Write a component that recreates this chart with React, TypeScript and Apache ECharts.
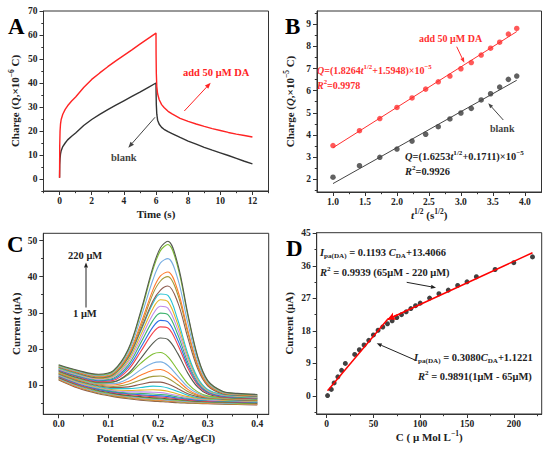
import React, { useEffect, useRef } from 'react';
import * as echarts from 'echarts';

const FONT = "'Liberation Serif','Times New Roman',Times,serif";

// ---------- Panel A : chronocoulometry ----------
const aTime = [0, 0.01, 0.03, 0.06, 0.1, 0.2, 0.35, 0.5, 0.75, 1, 1.5, 2, 2.5, 3, 3.5, 4, 4.5, 5, 5.5, 6,
  6.005, 6.02, 6.05, 6.1, 6.2, 6.35, 6.5, 6.75, 7, 7.5, 8, 8.5, 9, 9.5, 10, 10.5, 11, 11.5, 12];
const aBlank = [0.5, 6, 8.5, 10.5, 11.8, 13.5, 15, 16.3, 17.8, 19.2, 22.3, 24.8, 26.9, 28.9, 30.8, 32.6, 34.4, 36.2, 38.1, 40,
  36, 31, 27, 24.5, 22.8, 21.5, 20.7, 19.7, 18.9, 17.3, 15.8, 14.5, 13.2, 12, 10.9, 9.8, 8.6, 7.4, 6.3];
const aDA = [0.5, 14, 20, 23, 24.8, 27, 29, 30.5, 32.5, 34.2, 38.1, 41.5, 44.2, 46.8, 49.2, 51.5, 53.8, 56.2, 58.5, 60.8,
  52, 44, 38.5, 35.5, 33, 31, 29.8, 28.2, 27.1, 25.3, 24, 22.9, 21.9, 21, 20.2, 19.4, 18.7, 18.1, 17.5];
const aXTicks = [0, 2, 4, 6, 8, 10, 12];
const aXMinor = [-1, 1, 3, 5, 7, 9, 11, 13];
const aYTicks = [0, 10, 20, 30, 40, 50, 60, 70];
const aYMinor = [-5, 5, 15, 25, 35, 45, 55, 65];

// ---------- Panel B : Q vs t^1/2 ----------
const bT = [1.0, 1.414, 1.732, 2.0, 2.236, 2.449, 2.646, 2.828, 3.0, 3.162, 3.317, 3.464, 3.606, 3.742, 3.873];
const bDA = [3.52, 4.19, 4.74, 5.24, 5.67, 6.07, 6.4, 6.66, 6.99, 7.27, 7.61, 7.92, 8.19, 8.56, 8.81];
const bBlank = [2.09, 2.61, 2.99, 3.36, 3.72, 4.03, 4.37, 4.72, 4.99, 5.2, 5.58, 5.86, 6.16, 6.51, 6.66];
const bFitDA = [[1.0, 3.42], [3.873, 8.67]];
const bFitBlank = [[1.0, 1.8], [3.873, 6.47]];
const bXTicks = [1.0, 1.5, 2.0, 2.5, 3.0, 3.5, 4.0];
const bXMinor = [1.25, 1.75, 2.25, 2.75, 3.25, 3.75];
const bYTicks = [2, 3, 4, 5, 6, 7, 8, 9];
const bYMinor = [1.5, 2.5, 3.5, 4.5, 5.5, 6.5, 7.5, 8.5, 9.5];

// ---------- Panel C : DPV curves (1 uM ... 220 uM) ----------
const cPotential = [0, 0.04, 0.08, 0.11, 0.14, 0.165, 0.19, 0.205, 0.22, 0.24, 0.26, 0.28, 0.3, 0.33, 0.36, 0.4];
const cCurves = [
  [11.4, 9.1, 7.6, 6.8, 6.2, 5.8, 5.5, 5.4, 5.3, 5.1, 5.0, 4.9, 4.8, 4.7, 4.6, 4.5],
  [11.5, 9.3, 7.8, 7.0, 6.4, 6.0, 5.7, 5.6, 5.5, 5.3, 5.1, 5.0, 4.9, 4.8, 4.7, 4.6],
  [11.7, 9.4, 8.0, 7.2, 6.6, 6.2, 5.9, 5.8, 5.6, 5.5, 5.3, 5.1, 5.0, 4.9, 4.8, 4.7],
  [11.8, 9.6, 8.1, 7.3, 6.8, 6.4, 6.1, 6.0, 5.8, 5.6, 5.4, 5.3, 5.2, 5.0, 4.9, 4.8],
  [12.0, 9.8, 8.3, 7.5, 7.0, 6.6, 6.3, 6.2, 6.0, 5.8, 5.6, 5.4, 5.3, 5.2, 5.0, 4.9],
  [12.1, 10.0, 8.5, 7.7, 7.1, 6.8, 6.5, 6.4, 6.2, 6.0, 5.7, 5.5, 5.4, 5.3, 5.2, 5.0],
  [12.3, 10.1, 8.7, 7.9, 7.4, 7.1, 6.8, 6.7, 6.5, 6.2, 5.9, 5.7, 5.5, 5.4, 5.3, 5.1],
  [12.4, 10.3, 8.8, 8.1, 7.6, 7.3, 7.1, 7.0, 6.8, 6.4, 6.1, 5.8, 5.7, 5.5, 5.4, 5.2],
  [12.6, 10.5, 9.0, 8.3, 7.8, 7.7, 7.5, 7.4, 7.2, 6.7, 6.3, 6.0, 5.8, 5.6, 5.5, 5.3],
  [12.7, 10.6, 9.2, 8.5, 8.1, 8.1, 8.0, 7.9, 7.6, 7.1, 6.5, 6.1, 5.9, 5.7, 5.6, 5.4],
  [12.9, 10.8, 9.4, 8.7, 8.5, 8.6, 8.7, 8.6, 8.3, 7.5, 6.8, 6.3, 6.1, 5.8, 5.7, 5.5],
  [13.0, 11.0, 9.6, 9.0, 9.0, 9.3, 9.7, 9.6, 9.2, 8.2, 7.2, 6.5, 6.2, 6.0, 5.8, 5.6],
  [13.1, 11.1, 9.8, 9.3, 9.5, 10.2, 10.8, 10.8, 10.3, 9.0, 7.6, 6.8, 6.4, 6.1, 5.9, 5.7],
  [13.3, 11.3, 10.0, 9.6, 10.2, 11.4, 12.4, 12.5, 11.9, 10.1, 8.2, 7.1, 6.5, 6.2, 6.0, 5.8],
  [13.4, 11.5, 10.2, 10.0, 11.0, 12.7, 14.1, 14.3, 13.5, 11.2, 8.8, 7.3, 6.7, 6.3, 6.1, 5.9],
  [13.6, 11.7, 10.4, 10.4, 11.8, 14.2, 16.1, 16.4, 15.4, 12.5, 9.5, 7.7, 6.8, 6.4, 6.2, 6.0],
  [13.7, 11.8, 10.6, 10.8, 12.8, 16.0, 18.6, 19.0, 17.8, 14.1, 10.4, 8.1, 7.0, 6.5, 6.3, 6.1],
  [13.9, 12.0, 10.8, 10.9, 13.2, 17.3, 21.6, 23.0, 22.6, 18.7, 13.3, 9.4, 7.5, 6.7, 6.4, 6.2],
  [14.0, 12.2, 11.0, 11.3, 14.2, 19.2, 24.5, 26.1, 25.8, 21.1, 14.7, 10.0, 7.8, 6.8, 6.5, 6.3],
  [14.2, 12.4, 11.2, 11.6, 14.9, 20.3, 26.1, 27.9, 27.5, 22.4, 15.5, 10.4, 8.0, 6.9, 6.6, 6.4],
  [14.3, 12.5, 11.4, 11.9, 15.5, 21.6, 27.9, 29.9, 29.5, 23.9, 16.3, 10.8, 8.2, 7.1, 6.7, 6.5],
  [14.4, 12.7, 11.6, 12.2, 16.2, 22.7, 29.6, 31.8, 31.3, 25.3, 17.2, 11.2, 8.4, 7.2, 6.9, 6.6],
  [14.6, 12.9, 11.8, 12.5, 16.8, 23.8, 31.2, 33.6, 33.1, 26.7, 18.0, 11.6, 8.6, 7.3, 7.0, 6.7],
  [14.7, 13.0, 12.0, 12.8, 17.4, 24.9, 32.7, 35.2, 34.8, 28.0, 18.7, 12.0, 8.8, 7.4, 7.1, 6.8],
  [14.9, 13.2, 12.0, 12.9, 17.6, 25.2, 33.3, 36.3, 37.4, 32.8, 23.1, 14.5, 9.8, 7.6, 7.2, 6.9],
  [15.0, 13.4, 12.2, 13.1, 18.0, 26.0, 35.3, 38.8, 40.0, 35.0, 24.5, 15.2, 10.1, 7.8, 7.3, 7.0],
  [15.2, 13.5, 12.4, 13.3, 18.4, 26.8, 36.4, 40.2, 41.3, 36.1, 25.2, 15.6, 10.3, 7.9, 7.4, 7.1],
  [15.3, 13.7, 12.6, 13.6, 19.0, 28.4, 39.2, 43.8, 45.0, 39.3, 27.2, 16.6, 10.7, 8.0, 7.5, 7.2],
  [15.5, 13.9, 12.8, 13.8, 19.6, 29.8, 42.0, 47.2, 48.9, 42.6, 29.3, 17.6, 11.1, 8.2, 7.6, 7.3],
  [15.6, 14.0, 13.0, 14.0, 19.9, 30.3, 42.7, 48.0, 49.8, 43.4, 29.8, 17.9, 11.3, 8.3, 7.7, 7.4],
];
const cColors = ['#8c5a4e', '#a39a3a', '#ff7b2e', '#78aee2', '#7fbf33', '#555a50',
  '#f4434d', '#2e6fe6', '#3fb36f', '#c18ceb', '#e4b526', '#26c3d3'];
const cXTicks = [0.0, 0.1, 0.2, 0.3, 0.4];
const cXMinor = [0.05, 0.15, 0.25, 0.35];
const cYTicks = [10, 20, 30, 40, 50];
const cYMinor = [5, 15, 25, 35, 45];

// ---------- Panel D : calibration ----------
const dConc = [1, 5, 8, 12, 16, 20, 30, 35, 40, 45, 50, 55, 60, 65, 70, 75, 80, 85, 90, 95, 100,
  110, 120, 130, 140, 150, 160, 180, 200, 220];
const dCurrent = [0.1, 1.8, 3.6, 5.3, 7.1, 9.0, 11.5, 12.8, 14.1, 15.4, 16.9, 18.2, 19.1, 20.0, 20.8, 21.7,
  22.5, 23.3, 24.2, 25.0, 25.7, 27.1, 28.3, 29.3, 30.6, 31.6, 33.0, 35.0, 36.9, 38.5];
const dFitLow = [[1, 1.43], [65, 21.14]];
const dFitHigh = [[65, 21.16], [220, 39.65]];
const dArrowTail = [[65, 21.16], [76, 22.47]];
const dXTicks = [0, 50, 100, 150, 200];
const dXMinor = [25, 75, 125, 175, 225];
const dYTicks = [0, 9, 18, 27, 36, 45];
const dYMinor = [-4.5, 4.5, 13.5, 22.5, 31.5, 40.5];

const INK = '#222222';
const AXIS = '#333333';
const RED = '#ff2424';

const mkRich = (fs: number, color: string) => {
  const lh = Math.round(fs * 1.4);
  const s = Math.round(fs * 0.68 * 10) / 10;
  return {
    i: { fontStyle: 'italic', fontWeight: 'bold', fontSize: fs, fontFamily: FONT, fill: color, color, verticalAlign: 'middle', lineHeight: lh },
    n: { fontWeight: 'bold', fontSize: fs, fontFamily: FONT, fill: color, color, verticalAlign: 'middle', lineHeight: lh },
    sup: { fontWeight: 'bold', fontSize: s, fontFamily: FONT, fill: color, color, verticalAlign: 'top' },
    sub: { fontWeight: 'bold', fontSize: s, fontFamily: FONT, fill: color, color, verticalAlign: 'bottom' },
  };
};

const T = (x: number, y: number, text: string, fs: number, color: string) => ({
  type: 'text', x, y, silent: true, z: 100,
  style: {
    text, fontFamily: FONT, fontWeight: 'bold', fontSize: fs, fill: color,
    align: 'left', verticalAlign: 'middle', textAlign: 'left', textVerticalAlign: 'middle',
    lineHeight: Math.round(fs * 1.4), rich: mkRich(fs, color),
  },
});

const arrow = (x1: number, y1: number, x2: number, y2: number, color: string, head = 6, w = 2.3) => {
  const dx = x2 - x1, dy = y2 - y1, L = Math.hypot(dx, dy), ux = dx / L, uy = dy / L;
  const bx = x2 - ux * head, by = y2 - uy * head;
  return [
    { type: 'line', silent: true, z: 100, shape: { x1, y1, x2: bx, y2: by }, style: { stroke: color, lineWidth: 1 } },
    { type: 'polygon', silent: true, z: 100, shape: { points: [[x2, y2], [bx - uy * w, by + ux * w], [bx + uy * w, by - ux * w]] }, style: { fill: color } },
  ];
};

const labelStyle = (dec: number, margin: number) => ({
  fontFamily: FONT, fontWeight: 'bold', fontSize: 9.5, color: INK, margin,
  formatter: (v: number) => v.toFixed(dec),
});

const nameStyle = { fontFamily: FONT, fontWeight: 'bold', fontSize: 11, color: INK, lineHeight: 15, rich: mkRich(11, INK) };

function xMain(gi: number, min: number, max: number, ticks: number[], dec: number, name: string, gap: number) {
  return {
    type: 'value', gridIndex: gi, min, max, position: 'bottom',
    axisLine: { show: true, onZero: false, lineStyle: { color: AXIS, width: 1 } },
    axisTick: { show: true, inside: false, length: 4, customValues: ticks, lineStyle: { color: AXIS, width: 1 } },
    axisLabel: { ...labelStyle(dec, 5), customValues: ticks },
    splitLine: { show: false },
    name, nameLocation: 'middle', nameGap: gap, nameTextStyle: nameStyle,
  };
}
function yMain(gi: number, min: number, max: number, ticks: number[], dec: number, name: string, gap: number) {
  return {
    type: 'value', gridIndex: gi, min, max, position: 'left',
    axisLine: { show: true, onZero: false, lineStyle: { color: AXIS, width: 1 } },
    axisTick: { show: true, inside: false, length: 4, customValues: ticks, lineStyle: { color: AXIS, width: 1 } },
    axisLabel: { ...labelStyle(dec, 6), customValues: ticks },
    splitLine: { show: false },
    name, nameLocation: 'middle', nameGap: gap, nameRotate: 90, nameTextStyle: nameStyle,
  };
}
function minorAxis(gi: number, min: number, max: number, ticks: number[], position: string) {
  return {
    type: 'value', gridIndex: gi, min, max, position,
    axisLine: { show: false, onZero: false },
    axisTick: { show: true, inside: false, length: 2.2, customValues: ticks, lineStyle: { color: AXIS, width: 1 } },
    axisLabel: { show: false },
    splitLine: { show: false },
  };
}

const pairs = (xs: number[], ys: number[]) => xs.map((x, k) => [x, ys[k]]);

export default function App() {
  const ref = useRef<HTMLDivElement>(null);
  useEffect(() => {
    if (!ref.current) return;
    const chart = echarts.init(ref.current, null, { renderer: 'svg' });
    const grids = [
      { left: 43.5, top: 11, width: 225, height: 180 },
      { left: 317, top: 11, width: 224.5, height: 181 },
      { left: 43.3, top: 233.3, width: 225.4, height: 181 },
      { left: 316.7, top: 232.7, width: 225, height: 181.3 },
    ].map((g) => ({ ...g, show: true, borderColor: AXIS, borderWidth: 1, backgroundColor: 'transparent', containLabel: false }));

    const rng = {
      ax: [-1, 13], ay: [-5, 70],
      bx: [0.75, 4.26], by: [1.42, 9.6],
      cx: [-0.031, 0.423], cy: [1.9, 52],
      dx: [-10.6, 229.8], dy: [-5, 45.2],
    };

    const xAxis = [
      xMain(0, rng.ax[0], rng.ax[1], aXTicks, 0, 'Time (s)', 14),
      xMain(1, rng.bx[0], rng.bx[1], bXTicks, 1, '{i|t}{sup|1/2} (s{sup|1/2})', 13),
      xMain(2, rng.cx[0], rng.cx[1], cXTicks, 1, 'Potential (V vs. Ag/AgCl)', 15),
      xMain(3, rng.dx[0], rng.dx[1], dXTicks, 0, 'C ( μ Mol L{sup|−1})', 15),
      minorAxis(0, rng.ax[0], rng.ax[1], aXMinor, 'bottom'),
      minorAxis(1, rng.bx[0], rng.bx[1], bXMinor, 'bottom'),
      minorAxis(2, rng.cx[0], rng.cx[1], cXMinor, 'bottom'),
      minorAxis(3, rng.dx[0], rng.dx[1], dXMinor, 'bottom'),
    ];
    const yAxis = [
      yMain(0, rng.ay[0], rng.ay[1], aYTicks, 0, 'Charge (Q,×10{sup|−6} C)', 21),
      yMain(1, rng.by[0], rng.by[1], bYTicks, 0, 'Charge ({i|Q},×10{sup|−5} C)', 20),
      yMain(2, rng.cy[0], rng.cy[1], cYTicks, 0, 'Current (μA)', 20),
      yMain(3, rng.dy[0], rng.dy[1], dYTicks, 0, 'Current (μA)', 20),
      minorAxis(0, rng.ay[0], rng.ay[1], aYMinor, 'left'),
      minorAxis(1, rng.by[0], rng.by[1], bYMinor, 'left'),
      minorAxis(2, rng.cy[0], rng.cy[1], cYMinor, 'left'),
      minorAxis(3, rng.dy[0], rng.dy[1], dYMinor, 'left'),
    ];

    const line = (xi: number, data: number[][], color: string, width: number, extra: any = {}) => ({
      type: 'line', xAxisIndex: xi, yAxisIndex: xi, data, symbol: 'none', showSymbol: false,
      lineStyle: { color, width }, itemStyle: { color }, silent: true, ...extra,
    });
    const scatter = (xi: number, data: number[][], color: string, size: number) => ({
      type: 'scatter', xAxisIndex: xi, yAxisIndex: xi, data, symbol: 'circle', symbolSize: size,
      itemStyle: { color }, silent: true,
    });

    const series: any[] = [
      line(0, pairs(aTime, aBlank), '#333333', 1.4),
      line(0, pairs(aTime, aDA), RED, 1.4),
      line(1, bFitBlank, '#444444', 1),
      line(1, bFitDA, '#ff3030', 1),
      scatter(1, pairs(bT, bBlank), '#3a3a3a', 5.5),
      scatter(1, pairs(bT, bDA), '#ff3030', 5.5),
      ...cCurves.map((row, i) =>
        line(2, pairs(cPotential, row), cColors[i % cColors.length], 1.1, { smooth: 0.35, z: 2 + i * 0.01 })),
      scatter(3, pairs(dConc, dCurrent), '#111111', 5),
      line(3, dFitLow, '#ff0000', 1.5),
      line(3, dFitHigh, '#ff0000', 1.5, {
        markLine: {
          silent: true, animation: false, symbol: ['arrow', 'none'], symbolSize: [6, 8],
          label: { show: false }, lineStyle: { color: '#ff0000', type: 'solid', width: 1.5 },
          data: [[{ coord: dArrowTail[0] }, { coord: dArrowTail[1] }]],
        },
      }),
    ];

    const graphics: any[] = [
      T(8, 26, 'A', 23, '#000'),
      T(183, 72, 'add 50 μM DA', 10.5, RED),
      T(111, 157, 'blank', 10.5, '#444'),
      ...arrow(184.3, 111, 210.7, 82.7, RED),
      ...arrow(155, 117.3, 128.3, 147.7, '#444'),

      T(285, 26, 'B', 23, '#000'),
      T(419, 38.5, 'add 50 μM DA', 10, '#ff3030'),
      T(317, 70, '{i|Q}=(1.8264{i|t}{sup|1/2}+1.5948)×10{sup|−5}', 10, '#ff3030'),
      T(317, 85, '{i|R}{sup|2}=0.9978', 10, '#ff3030'),
      T(490, 128, 'blank', 10, '#444'),
      T(405, 156.7, '{i|Q}=(1.6253{i|t}{sup|1/2}+0.1711)×10{sup|−5}', 10.4, '#222'),
      T(405, 171.7, '{i|R}{sup|2}=0.9926', 10.4, '#222'),
      ...arrow(456.7, 46.7, 464.3, 62.7, '#ff3030', 5, 2),
      ...arrow(503.3, 120, 488.3, 103.3, '#444', 5, 2),

      T(7, 244, 'C', 23, '#000'),
      T(68, 255.5, '220 μM', 10.5, '#222'),
      T(73, 313, '1 μM', 10.5, '#222'),
      ...arrow(86, 307.5, 86, 262.5, '#222', 5, 2),

      T(286, 248, 'D', 23, '#000'),
      T(320, 252, '{i|I}{sub|pa(DA)} = 0.1193 {i|C}{sub|DA}+13.4066', 10.5, '#222'),
      T(320, 272.5, '{i|R}{sup|2} = 0.9939 (65μM - 220 μM)', 10.5, '#222'),
      T(414, 357, '{i|I}{sub|pa(DA)} = 0.3080{i|C}{sub|DA}+1.1221', 10.5, '#222'),
      T(418, 376.5, '{i|R}{sup|2} = 0.9891(1μM - 65μM)', 10.5, '#222'),
      ...arrow(406.7, 282.3, 436, 287.7, '#222', 5, 2),
      ...arrow(415, 360, 376.7, 343.3, '#222', 5, 2),
    ];

    chart.setOption({
      animation: false,
      backgroundColor: '#ffffff',
      textStyle: { fontFamily: FONT },
      grid: grids,
      xAxis,
      yAxis,
      series,
      graphic: { elements: graphics },
    });
    return () => chart.dispose();
  }, []);
  return <div ref={ref} style={{ position: 'fixed', left: 0, top: 0, width: 550, height: 449, background: '#fff' }} />;
}
